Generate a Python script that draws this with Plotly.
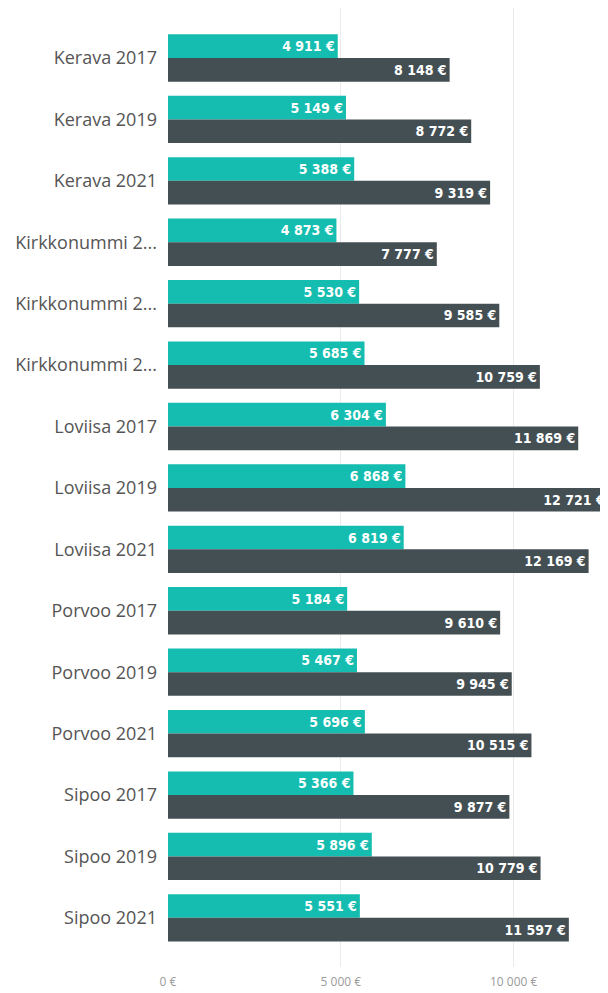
import plotly.graph_objects as go

categories = ["Kerava 2017", "Kerava 2019", "Kerava 2021",
              "Kirkkonummi 2017", "Kirkkonummi 2019", "Kirkkonummi 2021",
              "Loviisa 2017", "Loviisa 2019", "Loviisa 2021",
              "Porvoo 2017", "Porvoo 2019", "Porvoo 2021",
              "Sipoo 2017", "Sipoo 2019", "Sipoo 2021"]
tick_labels = ["Kerava 2017", "Kerava 2019", "Kerava 2021",
               "Kirkkonummi 2...", "Kirkkonummi 2...", "Kirkkonummi 2...",
               "Loviisa 2017", "Loviisa 2019", "Loviisa 2021",
               "Porvoo 2017", "Porvoo 2019", "Porvoo 2021",
               "Sipoo 2017", "Sipoo 2019", "Sipoo 2021"]
series_a = [4911, 5149, 5388, 4873, 5530, 5685, 6304, 6868, 6819,
            5184, 5467, 5696, 5366, 5896, 5551]
series_b = [8148, 8772, 9319, 7777, 9585, 10759, 11869, 12721, 12169,
            9610, 9945, 10515, 9877, 10779, 11597]
x_ticks = [0, 5000, 10000]
x_tick_labels = ["0 €", "5 000 €", "10 000 €"]


def fmt(v):
    return f"{v:,}".replace(",", " ") + " €"


label_font = dict(family="DejaVu Sans Condensed", size=14, color="white",
                  weight="bold")

fig = go.Figure()
fig.add_trace(go.Bar(
    y=categories, x=series_a, orientation="h", name="A",
    marker=dict(color="#14BDAF", line=dict(width=0)),
    text=[fmt(v) for v in series_a], textposition="inside",
    insidetextanchor="end", textfont=label_font, textangle=0,
))
fig.add_trace(go.Bar(
    y=categories, x=series_b, orientation="h", name="B",
    marker=dict(color="#444F54", line=dict(width=0)),
    text=[fmt(v) for v in series_b], textposition="inside",
    insidetextanchor="end", textfont=label_font, textangle=0,
))

fig.update_layout(
    width=600, height=985,
    margin=dict(l=160, r=0, t=0, b=26, autoexpand=False),
    barmode="group", bargap=0.23, bargroupgap=0,
    plot_bgcolor="white", paper_bgcolor="white",
    showlegend=False,
    uniformtext=dict(minsize=14, mode="show"),
    xaxis=dict(range=[0, 12730], tickvals=x_ticks, ticktext=x_tick_labels,
               showgrid=True, gridcolor="#EBEBEB", gridwidth=1,
               zeroline=False, showline=False, ticks="", automargin=False,
               ticklabelstandoff=6,
               tickfont=dict(family="Open Sans", size=12, color="#9A9A9A")),
    yaxis=dict(categoryorder="array", categoryarray=categories,
               tickvals=categories, ticktext=tick_labels,
               range=[14.80, -0.814], automargin=False,
               showgrid=False, zeroline=False, showline=False,
               ticks="", ticklabelstandoff=10,
               tickfont=dict(family="Open Sans", size=18, color="#555555")),
)

fig.write_html("out.html")
